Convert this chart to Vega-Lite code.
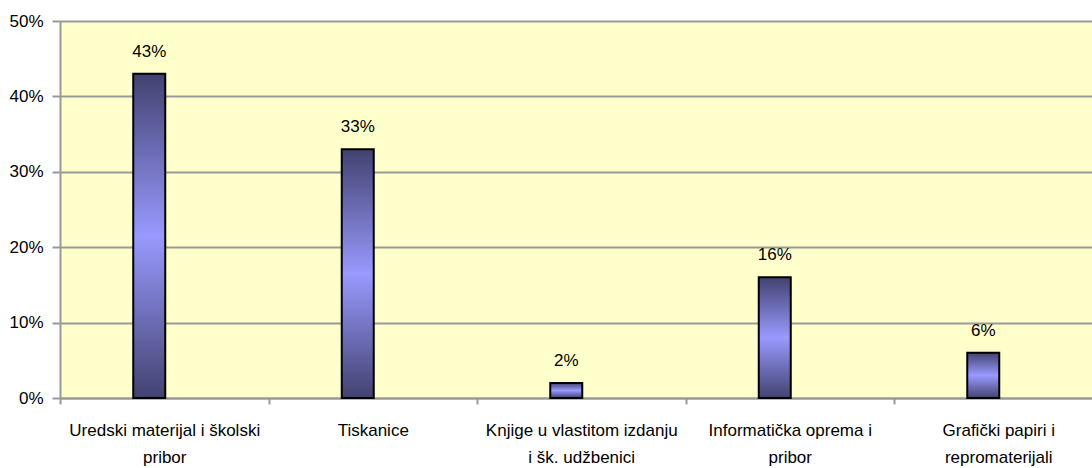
{
  "$schema": "https://vega.github.io/schema/vega-lite/v6.json",
  "width": 1032,
  "height": 377,
  "autosize": "none",
  "padding": {"left": 60, "top": 21, "right": 0, "bottom": 70},
  "background": "white",
  "config": {
    "view": {"fill": "#FFFFCC", "stroke": null},
    "font": "Liberation Sans, Arial, sans-serif"
  },
  "data": {
    "values": [
      {"cat": "Uredski materijal i školski|pribor", "pct": 0.43},
      {"cat": "Tiskanice", "pct": 0.33},
      {"cat": "Knjige u vlastitom izdanju|i šk. udžbenici", "pct": 0.02},
      {"cat": "Informatička oprema i|pribor", "pct": 0.16},
      {"cat": "Grafički papiri i|repromaterijali", "pct": 0.06}
    ]
  },
  "encoding": {
    "x": {
      "field": "cat",
      "type": "nominal",
      "sort": null,
      "scale": {"range": [0, 1042.5], "paddingInner": 0, "paddingOuter": 0},
      "axis": {
        "title": null,
        "labelAngle": 0,
        "labelExpr": "split(datum.label, '|')",
        "labelFontSize": 17,
        "labelLineHeight": 27,
        "labelPadding": 18,
        "labelColor": "black",
        "labelLimit": 400,
        "labelOverlap": false,
        "tickBand": "extent",
        "tickSize": 6,
        "tickColor": "#999999",
        "tickWidth": 2,
        "domainColor": "#999999",
        "domainWidth": 2,
        "grid": false
      }
    },
    "y": {
      "field": "pct",
      "type": "quantitative",
      "scale": {"domain": [0, 0.5], "nice": false},
      "axis": {
        "title": null,
        "format": ".0%",
        "values": [0, 0.1, 0.2, 0.3, 0.4, 0.5],
        "labelFontSize": 17,
        "labelColor": "black",
        "labelPadding": 9,
        "tickSize": 8,
        "tickColor": "#999999",
        "tickWidth": 2,
        "domainColor": "#999999",
        "domainWidth": 2,
        "gridColor": "#999999",
        "gridWidth": 2
      }
    }
  },
  "layer": [
    {
      "mark": {
        "type": "bar",
        "width": 32,
        "xOffset": -15,
        "stroke": "black",
        "strokeWidth": 2,
        "fill": {
          "gradient": "linear",
          "x1": 0, "y1": 0, "x2": 0, "y2": 1,
          "stops": [
            {"offset": 0, "color": "#424270"},
            {"offset": 0.5, "color": "#9999FF"},
            {"offset": 1, "color": "#424270"}
          ]
        }
      }
    },
    {
      "mark": {"type": "text", "xOffset": -15, "dy": -17, "baseline": "alphabetic", "fontSize": 17, "color": "black"},
      "encoding": {"text": {"field": "pct", "type": "quantitative", "format": ".0%"}}
    }
  ]
}
